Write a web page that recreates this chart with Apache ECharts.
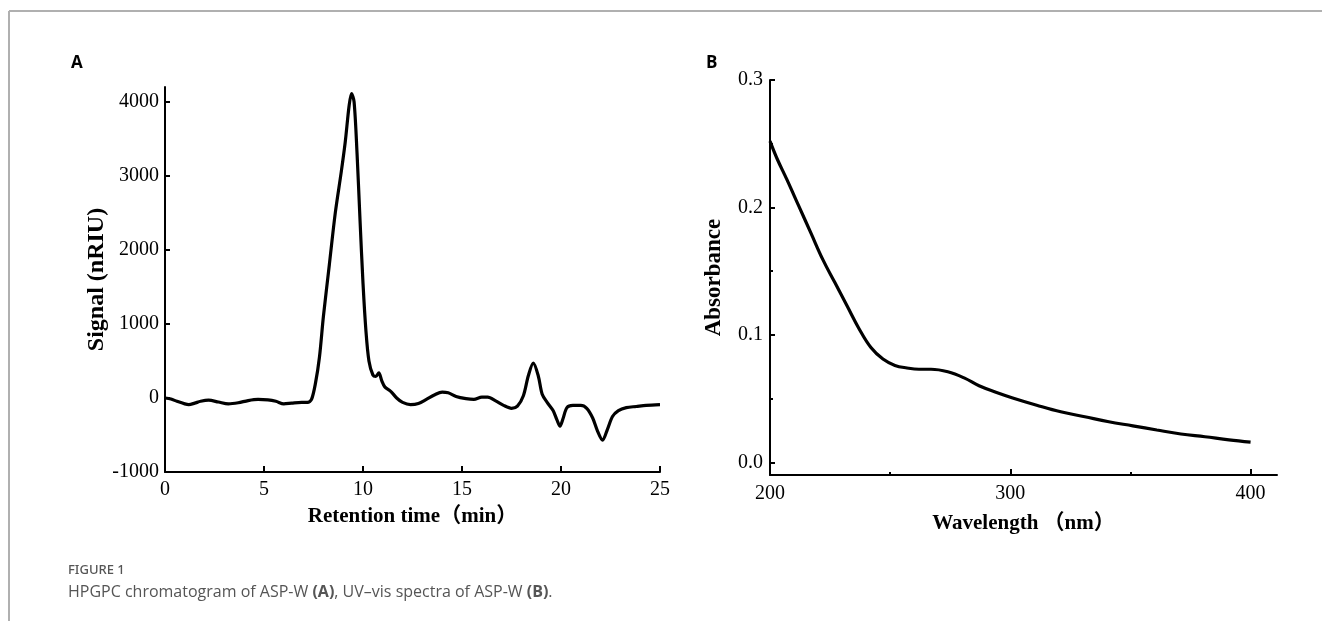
<!DOCTYPE html>
<html>
<head>
<meta charset="utf-8">
<script src="https://cdn.jsdelivr.net/npm/echarts@6/dist/echarts.min.js"></script>
<style>
  html, body { margin: 0; padding: 0; background: #fff; }
  #main { width: 1322px; height: 621px; }
</style>
</head>
<body>
<div id="main"></div>
<script>
/** A: HPGPC chromatogram */
var timeA = [0, 0.3, 0.6, 1.0, 1.2, 1.5, 1.8, 2.2, 2.7, 3.2, 3.7, 4.2, 4.7, 5.2, 5.6, 6.0, 6.4, 6.9, 7.2, 7.4,
  7.6, 7.8, 8.0, 8.3, 8.6, 8.9, 9.1, 9.3, 9.42, 9.55, 9.7, 9.85, 10.0, 10.15, 10.3, 10.5, 10.65, 10.8, 10.95, 11.1,
  11.4, 11.7, 12.0, 12.4, 12.8, 13.2, 13.6, 14.0, 14.3, 14.7, 15.2, 15.6, 16.0, 16.3, 16.7, 17.1, 17.5, 17.8, 18.1, 18.35,
  18.6, 18.85, 19.05, 19.3, 19.6, 19.8, 19.95, 20.1, 20.3, 20.6, 21.0, 21.3, 21.6, 21.85, 22.1, 22.35, 22.6, 22.9, 23.3, 23.8,
  24.3, 25.0];
var signalA = [0, -15, -45, -80, -90, -70, -45, -30, -55, -80, -65, -35, -20, -25, -45, -80, -70, -60, -60, -20,
  200, 550, 1100, 1800, 2500, 3050, 3450, 3950, 4110, 4000, 3300, 2400, 1550, 900, 500, 310, 290, 340, 230, 150,
  90, 0, -60, -90, -75, -20, 40, 80, 70, 20, -10, -20, 10, 10, -40, -100, -140, -110, 30, 300,
  470, 300, 50, -60, -170, -300, -380, -280, -130, -100, -100, -140, -270, -450, -570, -420, -250, -170, -130, -115,
  -100, -90];
var ticksA = [-1000, 0, 1000, 2000, 3000, 4000];

/** B: UV-vis spectrum */
var waveB = [200, 203, 207, 212, 217, 222, 227, 232, 237, 242, 247, 252, 257, 262, 267, 274, 281, 287, 294, 301,
  311, 321, 331, 341, 351, 361, 371, 381, 391, 400];
var absB = [0.252, 0.238, 0.222, 0.201, 0.180, 0.159, 0.141, 0.123, 0.105, 0.090, 0.081, 0.076, 0.074, 0.073, 0.073, 0.071, 0.066, 0.060, 0.055, 0.0505,
  0.0448, 0.0396, 0.0357, 0.0318, 0.0286, 0.0253, 0.0222, 0.0200, 0.0176, 0.0158];
var ticksB = [0, 0.1, 0.2, 0.3];
var minorB = [0.05, 0.15, 0.25];
var ticksBx = [200, 300, 400];
var minorBx = [250, 350];

var serif = '"Liberation Serif", "Times New Roman", "Noto Sans CJK SC", serif';
var black = '#000';

function pairs(xs, ys) {
  return xs.map(function (x, i) { return [x, ys[i]]; });
}

var chart = echarts.init(document.getElementById('main'));
var option = {
  animation: false,
  backgroundColor: '#fff',
  grid: [
    { left: 165, top: 87, width: 495, height: 385, outerBoundsMode: 'none' },
    { left: 770, top: 80, width: 507, height: 395, outerBoundsMode: 'none' }
  ],
  xAxis: [{
    gridIndex: 0,
    type: 'value',
    min: 0,
    max: 25,
    interval: 5,
    name: 'Retention time（min）',
    nameLocation: 'middle',
    nameGap: 34,
    nameMoveOverlap: false,
    nameTextStyle: { fontFamily: serif, fontSize: 21, fontWeight: 'bold', color: black },
    axisLine: { onZero: false, lineStyle: { color: black, width: 2 } },
    axisTick: { inside: true, length: 6, lineStyle: { color: black, width: 2 } },
    axisLabel: { fontFamily: serif, fontSize: 20, color: black, margin: 8 },
    splitLine: { show: false }
  }, {
    gridIndex: 1,
    type: 'value',
    min: 200,
    max: 411,
    name: 'Wavelength （nm）',
    nameLocation: 'middle',
    nameGap: 38,
    nameMoveOverlap: false,
    nameTextStyle: { fontFamily: serif, fontSize: 21, fontWeight: 'bold', color: black },
    axisLine: { onZero: false, lineStyle: { color: black, width: 2 } },
    axisTick: { inside: true, length: 6, customValues: ticksBx, lineStyle: { color: black, width: 2 } },
    axisLabel: { fontFamily: serif, fontSize: 20, color: black, margin: 9, customValues: ticksBx },
    splitLine: { show: false }
  }, {
    // minor ticks on wavelength axis
    gridIndex: 1,
    type: 'value',
    position: 'bottom',
    min: 200,
    max: 411,
    axisLine: { show: false, onZero: false },
    axisTick: { inside: true, length: 3, customValues: minorBx, lineStyle: { color: black, width: 2 } },
    axisLabel: { show: false },
    splitLine: { show: false }
  }],
  yAxis: [{
    gridIndex: 0,
    type: 'value',
    min: -1000,
    max: 4200,
    name: 'Signal (nRIU)',
    nameLocation: 'middle',
    nameGap: 56,
    nameMoveOverlap: false,
    nameTextStyle: { fontFamily: serif, fontSize: 24, fontWeight: 'bold', color: black },
    axisLine: { onZero: false, lineStyle: { color: black, width: 2 } },
    axisTick: { inside: true, length: 5, customValues: ticksA, lineStyle: { color: black, width: 2 } },
    axisLabel: {
      fontFamily: serif, fontSize: 20, color: black, margin: 6, customValues: ticksA,
      formatter: function (v) { return String(v); }
    },
    splitLine: { show: false }
  }, {
    gridIndex: 1,
    type: 'value',
    min: -0.01,
    max: 0.3,
    name: 'Absorbance',
    nameLocation: 'middle',
    nameGap: 44,
    nameMoveOverlap: false,
    nameTextStyle: { fontFamily: serif, fontSize: 23, fontWeight: 'bold', color: black },
    axisLine: { onZero: false, lineStyle: { color: black, width: 2 } },
    axisTick: { inside: true, length: 5, customValues: ticksB, lineStyle: { color: black, width: 2 } },
    axisLabel: {
      fontFamily: serif, fontSize: 20, color: black, margin: 7, customValues: ticksB,
      formatter: function (v) { return v.toFixed(1); }
    },
    splitLine: { show: false }
  }, {
    // minor ticks on absorbance axis
    gridIndex: 1,
    type: 'value',
    position: 'left',
    min: -0.01,
    max: 0.3,
    axisLine: { show: false, onZero: false },
    axisTick: { inside: true, length: 3, customValues: minorB, lineStyle: { color: black, width: 2 } },
    axisLabel: { show: false },
    splitLine: { show: false }
  }],
  series: [{
    type: 'line',
    xAxisIndex: 0,
    yAxisIndex: 0,
    data: pairs(timeA, signalA),
    smooth: 0.3,
    showSymbol: false,
    lineStyle: { color: black, width: 3.2 }
  }, {
    type: 'line',
    xAxisIndex: 1,
    yAxisIndex: 1,
    data: pairs(waveB, absB),
    smooth: 0.4,
    showSymbol: false,
    lineStyle: { color: black, width: 3.2 }
  }],
  graphic: [
    { type: 'line', shape: { x1: 9, y1: 11, x2: 1322, y2: 11 }, style: { stroke: '#b0b0b0', lineWidth: 2 } },
    { type: 'line', shape: { x1: 9, y1: 11, x2: 9, y2: 621 }, style: { stroke: '#b0b0b0', lineWidth: 2 } },
    { type: 'text', left: 71, top: 55, style: { text: 'A', font: 'bold 17px "Open Sans", Arial, sans-serif', fill: black } },
    { type: 'text', left: 706, top: 55, style: { text: 'B', font: 'bold 17px "Open Sans", Arial, sans-serif', fill: black } },
    { type: 'text', left: 68, top: 564, style: { text: 'FIGURE 1', font: '500 13px "Noto Sans", "Open Sans", sans-serif', fill: '#555' } },
    {
      type: 'text', left: 68, top: 584,
      style: {
        text: '{n|HPGPC chromatogram of ASP-W }{b|(A)}{n|, UV–vis spectra of ASP-W }{b|(B)}{n|.}',
        rich: {
          n: { fontFamily: '"Open Sans", "Noto Sans", sans-serif', fontSize: 16, fill: '#555', color: '#555' },
          b: { fontFamily: '"Open Sans", "Noto Sans", sans-serif', fontSize: 16, fontWeight: 'bold', fill: '#555', color: '#555' }
        }
      }
    }
  ]
};

chart.setOption(option);
</script>
</body>
</html>
